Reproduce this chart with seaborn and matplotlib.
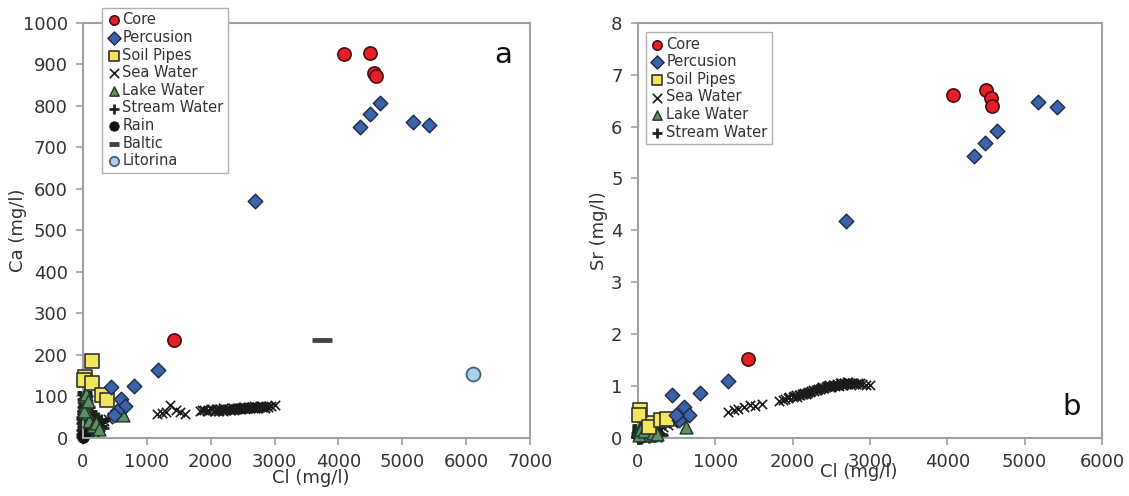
import matplotlib
matplotlib.use("Agg")
import matplotlib.pyplot as plt
import seaborn as sns
import numpy as np

# ---------------- data ----------------
core_cl = [4080, 4500, 4560, 4580, 1420]
core_ca = [925, 928, 880, 873, 235]
core_sr = [6.6, 6.7, 6.55, 6.4, 1.52]

perc_cl = [4340, 4490, 4650, 5170, 5420, 2690, 1170, 800, 440, 600, 660, 530, 490]
perc_ca = [750, 780, 808, 762, 755, 570, 163, 125, 122, 94, 78, 66, 56]
perc_sr = [5.43, 5.68, 5.92, 6.48, 6.37, 4.18, 1.10, 0.87, 0.82, 0.60, 0.45, 0.35, 0.45]

soil_cl = [140, 30, 20, 140, 300, 375]
soil_ca = [185, 147, 140, 132, 104, 91]
soil_sr = [0.28, 0.54, 0.45, 0.22, 0.35, 0.37]

sea_cl = [180, 230, 280, 330, 390, 450, 1160, 1240, 1300, 1370, 1450, 1520, 1600,
          1830, 1870, 1900, 1940, 1960, 2000, 2020, 2050, 2060, 2080, 2100, 2120,
          2130, 2150, 2170, 2190, 2200, 2220, 2240, 2260, 2280, 2300, 2310, 2330,
          2350, 2370, 2380, 2400, 2410, 2430, 2440, 2460, 2470, 2490, 2500, 2510,
          2520, 2540, 2550, 2570, 2580, 2590, 2600, 2610, 2620, 2640, 2650, 2660,
          2670, 2690, 2700, 2710, 2720, 2740, 2750, 2770, 2780, 2800, 2820, 2850,
          2870, 2900, 2950, 3000]
sea_ca = [30, 35, 38, 42, 45, 50, 57, 60, 63, 80, 67, 62, 58,
          66, 68, 68, 66, 67, 70, 69, 66, 66, 70, 70, 64,
          65, 69, 68, 66, 71, 67, 67, 70, 70, 68, 68, 71,
          72, 67, 69, 70, 71, 73, 73, 69, 70, 71, 72, 74,
          74, 70, 71, 72, 73, 75, 75, 72, 72, 74, 74, 71,
          76, 73, 73, 75, 75, 72, 74, 76, 77, 74, 75, 73,
          76, 74, 77, 79]
sea_sr = [0.12, 0.15, 0.18, 0.22, 0.25, 0.28, 0.50, 0.53, 0.55, 0.60, 0.63, 0.62, 0.65,
          0.72, 0.73, 0.75, 0.77, 0.78, 0.79, 0.80, 0.82, 0.79, 0.83, 0.83, 0.84,
          0.85, 0.86, 0.84, 0.87, 0.88, 0.89, 0.90, 0.92, 0.91, 0.93, 0.93, 0.95,
          0.95, 0.97, 0.98, 0.97, 0.96, 0.99, 1.00, 1.01, 1.02, 0.98, 0.99, 1.01,
          1.03, 1.02, 1.00, 1.03, 1.04, 1.02, 1.01, 1.05, 1.05, 1.03, 1.02, 1.06,
          1.06, 1.04, 1.04, 1.08, 1.07, 1.05, 1.03, 1.06, 1.05, 1.04, 1.04, 1.05,
          1.06, 1.04, 1.03, 1.03]

lake_cl = [620, 30, 60, 100, 150, 20, 10, 45, 80, 200, 250]
lake_ca = [55, 80, 60, 40, 30, 100, 65, 105, 90, 35, 22]
lake_sr = [0.22, 0.10, 0.12, 0.08, 0.06, 0.15, 0.05, 0.18, 0.14, 0.09, 0.07]

stream_cl = [5, 10, 15, 20, 25, 30, 35, 40, 45, 50, 8, 12, 18, 22, 28, 32, 38, 55,
             60, 70, 80, 90, 100, 120, 140, 160, 180, 200, 230, 260, 15, 25, 35, 45,
             65, 75, 5, 10, 20, 30, 40, 50, 110, 130, 170, 210,
             2, 6, 14, 24, 34, 44, 54, 64, 84, 94, 3, 9, 16, 27, 36, 48, 58, 68,
             88, 105, 125, 150, 190, 240, 280, 300]
stream_ca = [10, 25, 40, 55, 70, 85, 95, 100, 60, 45, 5, 15, 30, 65, 80, 50, 35, 40,
             55, 30, 45, 35, 50, 40, 30, 45, 25, 35, 20, 30, 105, 90, 75, 20, 25, 60,
             50, 65, 110, 15, 10, 70, 20, 55, 40, 28,
             35, 45, 60, 90, 105, 85, 70, 65, 75, 60, 20, 75, 95, 45, 110, 30, 20, 45,
             30, 65, 55, 20, 50, 45, 40, 25]
stream_sr = [0.02, 0.05, 0.08, 0.10, 0.12, 0.15, 0.18, 0.20, 0.12, 0.08, 0.01, 0.03,
             0.06, 0.11, 0.14, 0.10, 0.07, 0.09, 0.12, 0.07, 0.10, 0.08, 0.11, 0.09,
             0.07, 0.10, 0.06, 0.08, 0.05, 0.07, 0.22, 0.19, 0.16, 0.04, 0.05, 0.13,
             0.03, 0.14, 0.25, 0.02, 0.01, 0.17, 0.05, 0.12, 0.09, 0.06,
             0.04, 0.09, 0.13, 0.18, 0.21, 0.16, 0.13, 0.11, 0.14, 0.10, 0.02, 0.15,
             0.19, 0.08, 0.23, 0.06, 0.04, 0.09, 0.06, 0.12, 0.10, 0.04, 0.09, 0.08,
             0.07, 0.05]

rain_cl = [5, 10]
rain_ca = [3, 6]

baltic_cl = [3750]
baltic_ca = [235]

litorina_cl = [6100]
litorina_ca = [155]

# ---------------- style ----------------
sns.set_style("white")
plt.rcParams["font.family"] = ["DejaVu Sans"]

SPINE = "#a0a0a0"
TXT = "#333333"

fig = plt.figure(figsize=(11.29, 4.96), dpi=100)
axa = fig.add_axes([0.0735, 0.117, 0.396, 0.837])
axb = fig.add_axes([0.565, 0.117, 0.411, 0.837])

core_kw = dict(marker="o", color="#e3202a", edgecolor="#4a0c0c", s=90, linewidth=1.2, zorder=6, clip_on=False)
perc_kw = dict(marker="D", color="#3c62a8", edgecolor="#1a2a4a", s=55, linewidth=1.0, zorder=5, clip_on=False)
soil_kw = dict(marker="s", color="#f3e65c", edgecolor="#333333", s=100, linewidth=1.2, zorder=4, clip_on=False)
sea_kw = dict(marker="x", color="#1a1a1a", s=45, linewidth=1.2, zorder=3, clip_on=False)
lake_kw = dict(marker="^", color="#5f8f66", edgecolor="#1f3524", s=85, linewidth=1.0, zorder=3, clip_on=False)
stream_kw = dict(marker="+", color="#1a261c", s=110, linewidth=2.0, zorder=2, clip_on=False)

# panel a
sns.scatterplot(x=core_cl, y=core_ca, ax=axa, label="Core", **core_kw)
sns.scatterplot(x=perc_cl, y=perc_ca, ax=axa, label="Percusion", **perc_kw)
sns.scatterplot(x=soil_cl, y=soil_ca, ax=axa, label="Soil Pipes", **soil_kw)
sns.scatterplot(x=sea_cl, y=sea_ca, ax=axa, label="Sea Water", **sea_kw)
sns.scatterplot(x=lake_cl, y=lake_ca, ax=axa, label="Lake Water", **lake_kw)
sns.scatterplot(x=stream_cl, y=stream_ca, ax=axa, label="Stream Water", **stream_kw)
sns.scatterplot(x=rain_cl, y=rain_ca, ax=axa, label="Rain", marker="o", color="#111111",
                edgecolor="#111111", s=70, zorder=2, clip_on=False)
sns.scatterplot(x=baltic_cl, y=baltic_ca, ax=axa, label="Baltic", marker="_", color="#444444",
                s=220, linewidth=3.5, zorder=3)
sns.scatterplot(x=litorina_cl, y=litorina_ca, ax=axa, label="Litorina", marker="o",
                color="#a9d2f2", edgecolor="#4a5f75", s=100, linewidth=1.3, zorder=3)

# panel b
sns.scatterplot(x=core_cl, y=core_sr, ax=axb, label="Core", **core_kw)
sns.scatterplot(x=perc_cl, y=perc_sr, ax=axb, label="Percusion", **perc_kw)
sns.scatterplot(x=soil_cl, y=soil_sr, ax=axb, label="Soil Pipes", **soil_kw)
sns.scatterplot(x=sea_cl, y=sea_sr, ax=axb, label="Sea Water", **sea_kw)
sns.scatterplot(x=lake_cl, y=lake_sr, ax=axb, label="Lake Water", **lake_kw)
sns.scatterplot(x=stream_cl, y=stream_sr, ax=axb, label="Stream Water", **stream_kw)

axa.set_xlim(0, 7000)
axa.set_ylim(0, 1000)
axa.set_xticks(range(0, 7001, 1000))
axa.set_yticks(range(0, 1001, 100))
axb.set_xlim(0, 6000)
axb.set_ylim(0, 8)
axb.set_xticks(range(0, 6001, 1000))
axb.set_yticks(range(0, 9, 1))

for ax in (axa, axb):
    for sp in ax.spines.values():
        sp.set_color(SPINE)
        sp.set_linewidth(1.5)
    ax.tick_params(axis="both", direction="out", length=5, width=1.2, color=SPINE,
                   labelsize=13, labelcolor=TXT, pad=6, bottom=True, left=True)

axa.set_xlabel("Cl (mg/l)", fontsize=13, color=TXT)
axa.set_ylabel("Ca (mg/l)", fontsize=13, color=TXT)
axa.xaxis.set_label_coords(0.51, -0.075)
axa.yaxis.set_label_coords(-0.125, 0.5)

axb.set_xlabel("Cl (mg/l)", fontsize=13, color=TXT)
axb.set_ylabel("Sr (mg/l)", fontsize=13, color=TXT)
axb.xaxis.set_label_coords(0.475, -0.06)
axb.yaxis.set_label_coords(-0.065, 0.5)

axa.text(0.94, 0.904, "a", transform=axa.transAxes, fontsize=21, ha="center", va="baseline", color="#111111")
axb.text(0.935, 0.055, "b", transform=axb.transAxes, fontsize=21, ha="center", va="baseline", color="#111111")

leg_kw = dict(loc="upper left", bbox_transform=fig.transFigure, fontsize=10.5,
              frameon=True, fancybox=False, edgecolor="#b0b0b0", framealpha=1,
              borderpad=0.3, labelspacing=0.18, handletextpad=0.1, handlelength=1.0,
              borderaxespad=0, scatterpoints=1)
la = axa.legend(bbox_to_anchor=(0.0903, 0.984), **leg_kw)
lb = axb.legend(bbox_to_anchor=(0.572, 0.935), **leg_kw)
for lg in (la, lb):
    lg.get_frame().set_linewidth(1.0)
    lg.set_zorder(10)
    for t in lg.get_texts():
        t.set_color(TXT)
    for h in lg.legend_handles:
        h.set_sizes([45])

fig.savefig("out.png", dpi=100)
